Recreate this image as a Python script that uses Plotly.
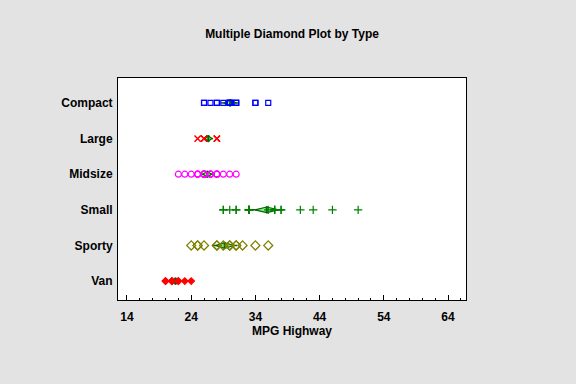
import numpy as np
import plotly.graph_objects as go

categories = ["Compact", "Large", "Midsize", "Small", "Sporty", "Van"]

compact = [26, 26, 27, 28, 28, 29, 30, 30, 30, 30, 30, 31, 31, 31, 34, 34, 36]
large = [25, 25, 26, 26, 26, 26, 26, 28, 28, 28, 28, 28]
midsize = [22, 23, 24, 25, 25, 26, 26, 26, 26, 27, 27, 28, 28, 28, 29, 30, 31, 26, 25, 27, 28, 26]
small = [31, 33, 29, 33, 33, 36, 50, 46, 33, 29, 37, 33, 38, 41, 38, 37, 30, 43, 37, 33, 31]
sporty = [24, 25, 25, 26, 28, 28, 29, 30, 30, 31, 31, 32, 34, 36]
van = [20, 20, 21, 21, 21, 22, 22, 23, 24]

groups = [compact, large, midsize, small, sporty, van]

x_ticks = [14, 24, 34, 44, 54, 64]

styles = [
    dict(symbol="square-open", color="#0000ff", size=5),
    dict(symbol="x-thin-open", color="#ff0000", size=6),
    dict(symbol="circle-open", color="#ff00ff", size=6),
    dict(symbol="cross-thin-open", color="#008000", size=6),
    dict(symbol="diamond-open", color="#808000", size=7),
    dict(symbol="diamond", color="#ff0000", size=5),
]

n = len(categories)
ypos = {c: n - 1 - i for i, c in enumerate(categories)}

fig = go.Figure()

dk = "#006400"
lt = "#90ee90"
for c, vals in zip(categories, groups):
    y0 = ypos[c]
    v = np.array(vals, dtype=float)
    m = v.mean()
    se = v.std(ddof=1) / np.sqrt(len(v))
    w = 2.1 * se
    d = 1.5 * se
    hh = 0.08
    vh = 0.1
    fig.add_trace(go.Scatter(x=[m - w, m + w], y=[y0, y0], mode="lines",
                             line=dict(color=dk, width=1.5), showlegend=False, hoverinfo="skip"))
    fig.add_trace(go.Scatter(x=[m - d, m, m + d, m, m - d], y=[y0, y0 + hh, y0, y0 - hh, y0],
                             mode="lines", fill="toself", fillcolor=lt,
                             line=dict(color=dk, width=1.2), showlegend=False, hoverinfo="skip"))
    fig.add_trace(go.Scatter(x=[m, m], y=[y0 - vh, y0 + vh], mode="lines",
                             line=dict(color=dk, width=2), showlegend=False, hoverinfo="skip"))

for c, vals, st in zip(categories, groups, styles):
    fig.add_trace(go.Scatter(
        x=vals, y=[ypos[c]] * len(vals), mode="markers", showlegend=False,
        marker=dict(symbol=st["symbol"], size=st["size"], color=st["color"],
                    line=dict(color=st["color"], width=1.2)),
    ))

fig.update_layout(
    width=576, height=384,
    paper_bgcolor="#e3e3e3", plot_bgcolor="white",
    margin=dict(l=118, r=110, t=78, b=84),
    font=dict(family="Liberation Sans, Arial, sans-serif", color="black", size=12),
    title=dict(text="<b>Multiple Diamond Plot by Type</b>", x=0.507, xanchor="center",
               y=1 - 34 / 384, yanchor="middle", font=dict(size=12)),
)
fig.update_xaxes(
    range=[12.6, 66.8], tickvals=x_ticks, ticktext=[f"<b>{t}</b>" for t in x_ticks],
    ticks="inside", ticklen=5, tickcolor="black", showgrid=False, zeroline=False,
    showline=True, linecolor="black", linewidth=1, mirror=True,
    minor=dict(dtick=2, tick0=14, ticks="inside", ticklen=2, tickcolor="black", showgrid=False),
    title=dict(text="<b>MPG Highway</b>", standoff=2, font=dict(size=12)),
    tickfont=dict(size=12), ticklabelstandoff=6,
)
fig.update_yaxes(
    range=[-0.53, n - 1 + 0.70], tickvals=[ypos[c] for c in categories],
    ticktext=[f"<b>{c}</b>" for c in categories], ticks="", showgrid=False, zeroline=False,
    showline=True, linecolor="black", linewidth=1, mirror=True, tickfont=dict(size=12),
    ticklabelstandoff=2,
)

fig.write_html("out.html", config={"displayModeBar": False},
               post_script="document.body.style.margin='0';")
